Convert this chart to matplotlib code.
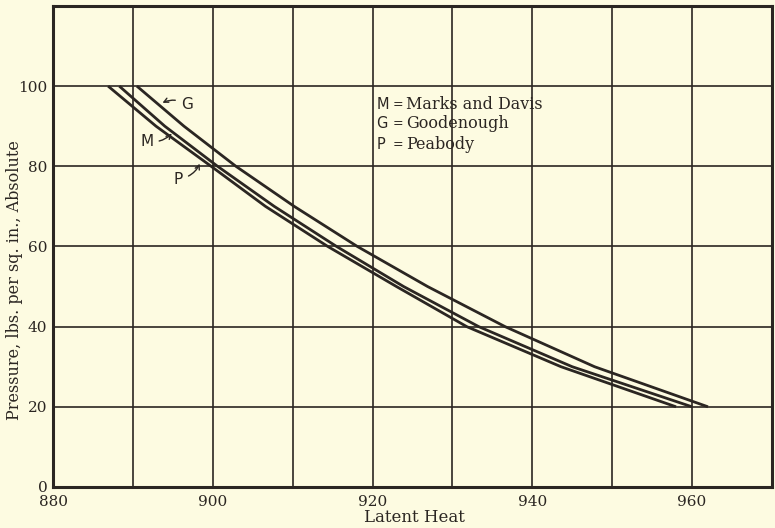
import numpy as np
import matplotlib.pyplot as plt

# Data
# -----------------------
pressure = [100, 90, 80, 70, 60, 50, 40, 30, 20]
heat_marks_davis = [888.3, 894.0, 900.6, 907.7, 915.5, 923.9, 933.3, 945.0, 960.0]
heat_goodenough = [890.5, 896.4, 902.9, 910.2, 918.1, 926.9, 936.6, 947.8, 962.0]
heat_peabody = [886.9, 892.9, 899.8, 906.6, 914.4, 923.0, 931.8, 943.6, 958.0]

x_ticks = [880, 900, 920, 940, 960]
y_ticks = [0, 20, 40, 60, 80, 100]

bg = '#fdfbe1'
ink = '#2b2622'
serif = 'DejaVu Serif'
sans = 'DejaVu Sans'

fig = plt.figure(figsize=(7.75, 5.28), dpi=100, facecolor=bg)
ax = fig.add_axes([0.0684, 0.0777, 0.9276, 0.911])
ax.set_facecolor(bg)

# grid every 10 / 20
for gx in np.arange(890, 970, 10):
    ax.axvline(gx, color=ink, lw=1.2, zorder=1)
for gy in np.arange(20, 120, 20):
    ax.axhline(gy, color=ink, lw=1.2, zorder=1)

# curves
for heat in (heat_marks_davis, heat_goodenough, heat_peabody):
    ax.plot(heat, pressure, color=ink, lw=2.0, solid_capstyle='butt',
            solid_joinstyle='round', zorder=3)

ax.set_xlim(880, 970)
ax.set_ylim(0, 120)
ax.set_xticks(x_ticks)
ax.set_yticks(y_ticks)
ax.tick_params(length=0, labelsize=11)
ax.tick_params(axis='x', pad=6)
ax.tick_params(axis='y', pad=4)
for lab in ax.get_xticklabels() + ax.get_yticklabels():
    lab.set_family(serif)
    lab.set_color(ink)
for sp in ax.spines.values():
    sp.set_linewidth(2.2)
    sp.set_color(ink)

ax.set_xlabel('Latent Heat', family=serif, fontsize=12, color=ink, va='center')
ax.xaxis.set_label_coords(0.503, -0.064)
ax.set_ylabel('Pressure, lbs. per sq. in., Absolute', family=serif, fontsize=11.5,
              color=ink, va='center')
ax.yaxis.set_label_coords(-0.053, 0.43)

# curve labels with small curved pointers
arrow = dict(arrowstyle='->', color=ink, lw=1.0, mutation_scale=8)
ax.annotate('G', xy=(893.4, 95.5), xytext=(896.0, 95.5), family=sans, fontsize=11,
            color=ink, va='center', ha='left',
            arrowprops=dict(arrow, connectionstyle='arc3,rad=0.3'))
ax.annotate('M', xy=(895.1, 88.7), xytext=(892.6, 86.3), family=sans, fontsize=11,
            color=ink, va='center', ha='right',
            arrowprops=dict(arrow, connectionstyle='arc3,rad=0.3'))
ax.annotate('P', xy=(898.5, 81.3), xytext=(896.3, 76.8), family=sans, fontsize=11,
            color=ink, va='center', ha='right',
            arrowprops=dict(arrow, connectionstyle='arc3,rad=0.3'))

# key
key_letters = ['M', 'G', 'P']
key_names = ['Marks and Davis', 'Goodenough', 'Peabody']
key_y = [95.5, 90.6, 85.5]
for letter, name, ky in zip(key_letters, key_names, key_y):
    ax.text(920.5, ky, letter, family=sans, fontsize=10.5, color=ink, va='center')
    ax.text(922.5, ky, '=', family=sans, fontsize=9, color=ink, va='center')
    ax.text(924.2, ky, name, family=serif, fontsize=11.5, color=ink, va='center')

fig.savefig('out.png', dpi=100, facecolor=bg)
